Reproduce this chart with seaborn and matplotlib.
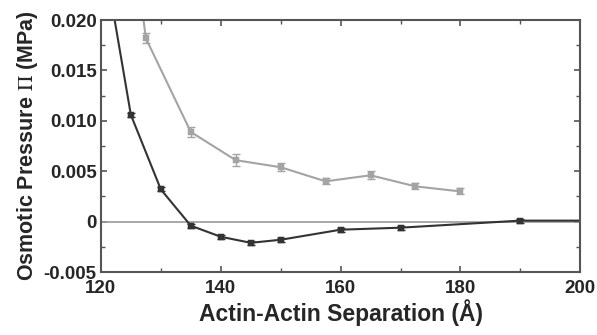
import numpy as np
import pandas as pd
import seaborn as sns
import matplotlib
matplotlib.use("Agg")
import matplotlib.pyplot as plt
from matplotlib.ticker import MultipleLocator

# series noire (avec prolongement hors cadre)
sep_noir = [120, 125, 130, 135, 140, 145, 150, 160, 170, 190, 200]
pi_noir = [0.028, 0.0106, 0.0032, -0.0004, -0.0015, -0.0021, -0.0018, -0.0008, -0.0006, 0.0001, 0.0001]
err_noir = [0, 0.0002, 0.0002, 0.0002, 0.0002, 0.0002, 0.0002, 0.0002, 0.0002, 0.0002, 0]
marq_noir = [False, True, True, True, True, True, True, True, True, True, False]

# series grise
sep_gris = [125, 127.5, 135, 142.5, 150, 157.5, 165, 172.5, 180]
pi_gris = [0.030, 0.0182, 0.0089, 0.0061, 0.0054, 0.0040, 0.0046, 0.0035, 0.0030]
err_gris = [0, 0.0005, 0.0005, 0.0006, 0.0004, 0.0003, 0.0004, 0.0003, 0.0003]
marq_gris = [False, True, True, True, True, True, True, True, True]

df_noir = pd.DataFrame({'sep': sep_noir, 'pi': pi_noir, 'err': err_noir, 'm': marq_noir})
df_gris = pd.DataFrame({'sep': sep_gris, 'pi': pi_gris, 'err': err_gris, 'm': marq_gris})

sns.set_style("ticks")
plt.rcParams['font.family'] = ['Liberation Sans', 'DejaVu Sans']
plt.rcParams['mathtext.fontset'] = 'stix'

fig = plt.figure(figsize=(5.97, 3.35), dpi=100)
ax = fig.add_axes([0.169, 0.188, 0.803, 0.752])

ax.axhline(0, color='#9a9a9a', lw=1.2, zorder=1)

for df, col in [(df_gris, '#a4a4a4'), (df_noir, '#333333')]:
    sns.lineplot(data=df, x='sep', y='pi', color=col, lw=1.5, ax=ax, zorder=2)
    pts = df[df['m']]
    ax.errorbar(pts['sep'], pts['pi'], yerr=pts['err'], fmt='none', ecolor=col,
                elinewidth=1, capsize=3, zorder=3)
    sns.scatterplot(data=pts, x='sep', y='pi', color=col, marker='s', s=18,
                    edgecolor=col, ax=ax, zorder=4)

ax.set_xlim(120, 200)
ax.set_ylim(-0.005, 0.020)
ax.xaxis.set_major_locator(MultipleLocator(20))
ax.xaxis.set_minor_locator(MultipleLocator(10))
ax.yaxis.set_major_locator(MultipleLocator(0.005))
ax.yaxis.set_minor_locator(MultipleLocator(0.0025))
ax.set_yticks([-0.005, 0, 0.005, 0.010, 0.015, 0.020])
ax.set_yticklabels(['-0.005', '0', '0.005', '0.010', '0.015', '0.020'])
ax.tick_params(which='both', direction='in', top=True, right=True, color='#555555')
ax.tick_params(which='major', length=4, width=1.2, labelsize=13.5)
ax.tick_params(axis='x', which='major', pad=6)
ax.tick_params(axis='y', which='major', pad=3)
ax.tick_params(which='minor', length=3, width=1)
for lab in ax.get_xticklabels() + ax.get_yticklabels():
    lab.set_fontweight('bold')
for sp in ax.spines.values():
    sp.set_color('#555555')
    sp.set_linewidth(1.5)

ax.set_xlabel('Actin-Actin Separation (Å)', fontsize=16.5, fontweight='bold', labelpad=1)
ax.set_ylabel(r'Osmotic Pressure $\mathrm{\Pi}$ (MPa)', fontsize=15.5, fontweight='bold', labelpad=3)

fig.savefig('out.png', dpi=100)
